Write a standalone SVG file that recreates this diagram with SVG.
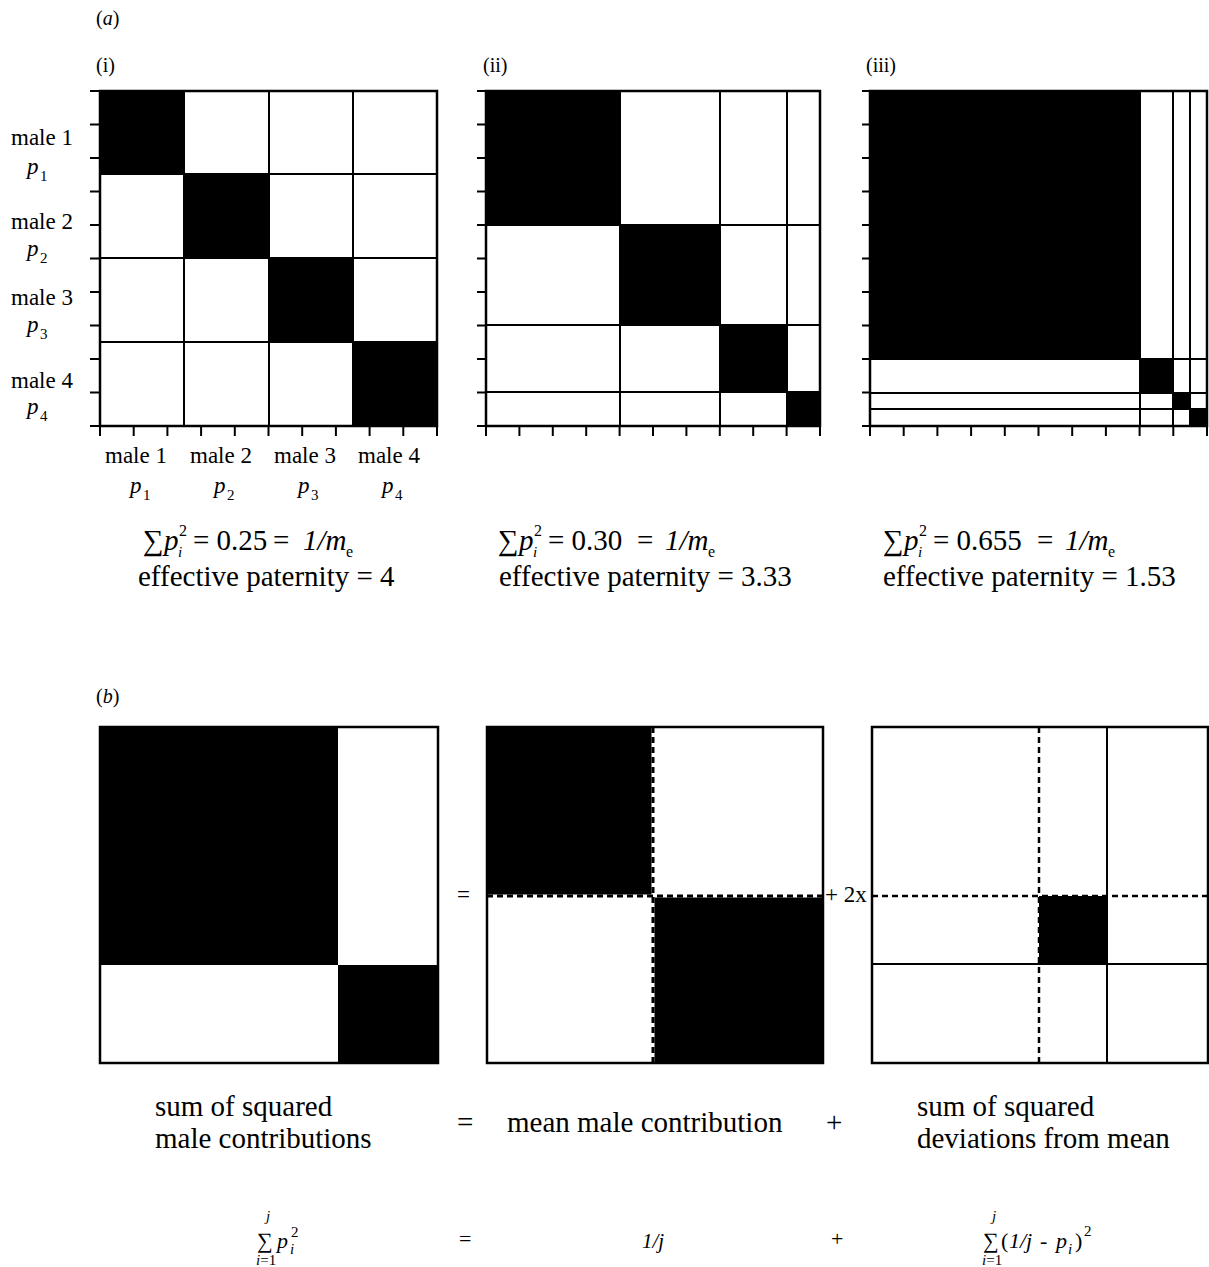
<svg xmlns="http://www.w3.org/2000/svg" width="1209" height="1267" viewBox="0 0 1209 1267">
<style>
text{font-family:"Liberation Serif","Tinos","Times New Roman","DejaVu Serif",serif;fill:#000}
.it{font-style:italic}
.lab{font-size:23px}
.f{font-size:29px}
.s{font-size:16px}
.ss{font-size:15px}
.bf{font-size:22px}
.bs{font-size:15px}
.bg{fill:#fff}
.blk{fill:#000}
.ln{stroke:#000;stroke-width:2;fill:none}
.out{stroke:#000;stroke-width:2.5;fill:none}
.tick{stroke:#000;stroke-width:2;fill:none}
.dash{stroke:#000;stroke-width:2.5;stroke-dasharray:6 4;fill:none}
.wl{stroke:#fff;stroke-width:3;fill:none}
.dk{stroke:#000;stroke-width:3;stroke-dasharray:6 4;fill:none}
</style>
<rect width="1209" height="1267" fill="#fff"/>

<g id="labels-a">
<text x="96" y="25" font-size="20">(<tspan class="it">a</tspan>)</text>
<text x="96" y="72" font-size="20">(i)</text>
<text x="483" y="72" font-size="20">(ii)</text>
<text x="866" y="72" font-size="20">(iii)</text>
</g>

<g id="panel-i">
<rect class="bg" x="100" y="91" width="337" height="335"/>
<rect class="blk" x="100" y="91" width="84" height="83"/>
<rect class="blk" x="184" y="174" width="85" height="84"/>
<rect class="blk" x="269" y="258" width="84" height="84"/>
<rect class="blk" x="353" y="342" width="84" height="84"/>
<path class="ln" d="M184 91V426M269 91V426M353 91V426M100 174H437M100 258H437M100 342H437"/>
<rect class="out" x="100" y="91" width="337" height="335"/>
<path class="tick" d="M90 91H100M90 124.5H100M90 158H100M90 191.5H100M90 225H100M90 258.5H100M90 292H100M90 325.5H100M90 359H100M90 392.5H100M90 426H100
M100 426V436M133.7 426V436M167.4 426V436M201.1 426V436M234.8 426V436M268.5 426V436M302.2 426V436M335.9 426V436M369.6 426V436M403.3 426V436M437 426V436"/>
<text class="lab" x="11" y="145">male 1</text>
<text class="lab it" x="27" y="174">p</text><text font-size="15" x="40" y="181">1</text>
<text class="lab" x="11" y="229">male 2</text>
<text class="lab it" x="27" y="256">p</text><text font-size="15" x="40" y="263">2</text>
<text class="lab" x="11" y="305">male 3</text>
<text class="lab it" x="27" y="332">p</text><text font-size="15" x="40" y="339">3</text>
<text class="lab" x="11" y="388">male 4</text>
<text class="lab it" x="27" y="414">p</text><text font-size="15" x="40" y="421">4</text>
<text class="lab" x="136" y="463" text-anchor="middle">male 1</text>
<text class="lab" x="221" y="463" text-anchor="middle">male 2</text>
<text class="lab" x="305" y="463" text-anchor="middle">male 3</text>
<text class="lab" x="389" y="463" text-anchor="middle">male 4</text>
<text class="lab it" x="130" y="493">p</text><text font-size="15" x="143" y="500">1</text>
<text class="lab it" x="214" y="493">p</text><text font-size="15" x="227" y="500">2</text>
<text class="lab it" x="298" y="493">p</text><text font-size="15" x="311" y="500">3</text>
<text class="lab it" x="382" y="493">p</text><text font-size="15" x="395" y="500">4</text>
</g>

<g id="panel-ii">
<rect class="bg" x="486" y="91" width="334" height="335"/>
<rect class="blk" x="486" y="91" width="134" height="134"/>
<rect class="blk" x="620" y="225" width="100" height="100"/>
<rect class="blk" x="720" y="325" width="67" height="67"/>
<rect class="blk" x="787" y="392" width="33" height="34"/>
<path class="ln" d="M620 91V426M720 91V426M787 91V426M486 225H820M486 325H820M486 392H820"/>
<rect class="out" x="486" y="91" width="334" height="335"/>
<path class="tick" d="M477 91H486M477 124.5H486M477 158H486M477 191.5H486M477 225H486M477 258.5H486M477 292H486M477 325.5H486M477 359H486M477 392.5H486M477 426H486
M486 426V436M519.4 426V436M552.8 426V436M586.2 426V436M619.6 426V436M653 426V436M686.4 426V436M719.8 426V436M753.2 426V436M786.6 426V436M820 426V436"/>
</g>

<g id="panel-iii">
<rect class="bg" x="870" y="91" width="337" height="335"/>
<rect class="blk" x="870" y="91" width="270" height="268"/>
<rect class="blk" x="1140" y="359" width="33" height="34"/>
<rect class="blk" x="1173" y="393" width="17" height="16"/>
<rect class="blk" x="1190" y="409" width="17" height="17"/>
<path class="ln" d="M1140 91V426M1173 91V426M1190 91V426M870 359H1207M870 393H1207M870 409H1207"/>
<rect class="out" x="870" y="91" width="337" height="335"/>
<path class="tick" d="M862 91H870M862 124.5H870M862 158H870M862 191.5H870M862 225H870M862 258.5H870M862 292H870M862 325.5H870M862 359H870M862 392.5H870M862 426H870
M870 426V436M903.7 426V436M937.4 426V436M971.1 426V436M1004.8 426V436M1038.5 426V436M1072.2 426V436M1105.9 426V436M1139.6 426V436M1173.3 426V436M1207 426V436"/>
</g>

<g id="formula-i">
<text class="f" x="143" y="550">∑</text>
<text class="f it" x="164" y="550">p</text>
<text class="s" x="179" y="536">2</text>
<text class="ss it" x="178" y="557">i</text>
<text class="f" x="193" y="550">= 0.25</text>
<text class="f" x="273" y="550">=</text>
<text class="f it" x="303" y="550">1/m</text>
<text class="s" x="346" y="557">e</text>
<text class="f" x="138" y="586">effective paternity = 4</text>
</g>

<g id="formula-ii">
<text class="f" x="498" y="550">∑</text>
<text class="f it" x="519" y="550">p</text>
<text class="s" x="534" y="536">2</text>
<text class="ss it" x="533" y="557">i</text>
<text class="f" x="548" y="550">= 0.30</text>
<text class="f" x="637" y="550">=</text>
<text class="f it" x="665" y="550">1/m</text>
<text class="s" x="708" y="557">e</text>
<text class="f" x="499" y="586">effective paternity = 3.33</text>
</g>

<g id="formula-iii">
<text class="f" x="883" y="550">∑</text>
<text class="f it" x="904" y="550">p</text>
<text class="s" x="919" y="536">2</text>
<text class="ss it" x="918" y="557">i</text>
<text class="f" x="933" y="550">= 0.655</text>
<text class="f" x="1037" y="550">=</text>
<text class="f it" x="1065" y="550">1/m</text>
<text class="s" x="1108" y="557">e</text>
<text class="f" x="883" y="586">effective paternity = 1.53</text>
</g>

<text x="96" y="703" font-size="20">(<tspan class="it">b</tspan>)</text>

<g id="box-b-left">
<rect class="bg" x="100" y="727" width="338" height="336"/>
<rect class="blk" x="100" y="727" width="238" height="238"/>
<rect class="blk" x="338" y="965" width="100" height="98"/>
<rect class="out" x="100" y="727" width="338" height="336"/>
</g>

<text x="457" y="902" font-size="23">=</text>

<g id="box-b-middle">
<rect class="bg" x="487" y="727" width="336" height="336"/>
<rect class="blk" x="487" y="727" width="166" height="169"/>
<rect class="blk" x="653" y="896" width="170" height="167"/>
<path class="wl" d="M653 727V1063M487 896H823"/>
<path class="dk" d="M653 727V1063M487 896H823"/>
<rect class="out" x="487" y="727" width="336" height="336"/>
</g>

<text x="825" y="902" font-size="23">+ 2x</text>

<g id="box-b-right">
<rect class="bg" x="872" y="727" width="336" height="336"/>
<path class="dash" d="M1039 727V1063M872 896H1208"/>
<path class="ln" d="M1107 727V1063M872 964H1208"/>
<rect class="blk" x="1039" y="896" width="68" height="68"/>
<rect class="out" x="872" y="727" width="336" height="336"/>
</g>

<g id="captions-b">
<text class="f" x="155" y="1116">sum of squared</text>
<text class="f" x="155" y="1148">male contributions</text>
<text class="f" x="457" y="1132">=</text>
<text class="f" x="507" y="1132">mean male contribution</text>
<text class="f" x="826" y="1132">+</text>
<text class="f" x="917" y="1116">sum of squared</text>
<text class="f" x="917" y="1148">deviations from mean</text>
</g>

<g id="equation-b">
<text class="bs it" x="266" y="1221">j</text>
<text class="bf" x="257" y="1248">∑</text>
<text class="bs" x="256" y="1265"><tspan class="it">i</tspan>=1</text>
<text class="bf it" x="277" y="1248">p</text>
<text class="bs" x="291" y="1237">2</text>
<text class="bs it" x="290" y="1254">i</text>
<text class="bf" x="459" y="1246">=</text>
<text class="it" font-size="21" x="642" y="1248">1/j</text>
<text class="bf" x="831" y="1246">+</text>
<text class="bs it" x="992" y="1221">j</text>
<text class="bf" x="983" y="1248">∑</text>
<text class="bs" x="982" y="1265"><tspan class="it">i</tspan>=1</text>
<text class="bf" x="1001" y="1248">(</text>
<text class="bf it" x="1009" y="1248">1/j</text>
<text class="bf" x="1040" y="1248">-</text>
<text class="bf it" x="1056" y="1248">p</text>
<text class="bs it" x="1068" y="1254">i</text>
<text class="bf" x="1075" y="1248">)</text>
<text class="bs" x="1084" y="1236">2</text>
</g>
</svg>
